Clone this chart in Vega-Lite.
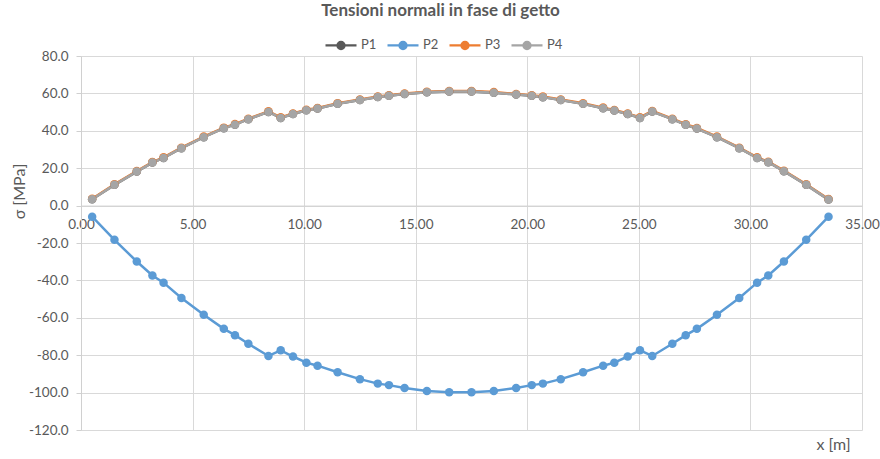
{
"$schema": "https://vega.github.io/schema/vega-lite/v6.json",
"width": 781, "height": 374,
"autosize": "none",
"padding": {"left": 81, "top": 56, "right": 18, "bottom": 29},
"background": "white",
"config": {"font": "Lato", "view": {"stroke": null}},
"title": {"text": "Tensioni normali in fase di getto", "fontSize": 17, "fontWeight": "bold", "color": "#595959", "anchor": "middle", "dx": -31, "offset": 8, "font": "Lato"},
"data": {"values": [
{"s":"P1","x":0.5,"y":3.4},{"s":"P1","x":1.5,"y":11.1},{"s":"P1","x":2.5,"y":18.2},{"s":"P1","x":3.2,"y":23.0},{"s":"P1","x":3.7,"y":25.5},{"s":"P1","x":4.5,"y":30.7},{"s":"P1","x":5.5,"y":36.6},{"s":"P1","x":6.4,"y":41.4},{"s":"P1","x":6.9,"y":43.3},{"s":"P1","x":7.5,"y":46.2},{"s":"P1","x":8.4,"y":50.1},{"s":"P1","x":8.95,"y":46.9},{"s":"P1","x":9.5,"y":49.0},{"s":"P1","x":10.1,"y":51.0},{"s":"P1","x":10.6,"y":51.9},{"s":"P1","x":11.5,"y":54.5},{"s":"P1","x":12.5,"y":56.5},{"s":"P1","x":13.3,"y":58.1},{"s":"P1","x":13.8,"y":58.7},{"s":"P1","x":14.5,"y":59.7},{"s":"P1","x":15.5,"y":60.6},{"s":"P1","x":16.5,"y":61.0},{"s":"P1","x":17.5,"y":61.0},{"s":"P1","x":18.5,"y":60.4},{"s":"P1","x":19.5,"y":59.4},{"s":"P1","x":20.2,"y":58.7},{"s":"P1","x":20.7,"y":58.0},{"s":"P1","x":21.5,"y":56.5},{"s":"P1","x":22.5,"y":54.4},{"s":"P1","x":23.4,"y":52.1},{"s":"P1","x":23.9,"y":50.8},{"s":"P1","x":24.5,"y":49.0},{"s":"P1","x":25.05,"y":46.9},{"s":"P1","x":25.6,"y":50.3},{"s":"P1","x":26.5,"y":46.2},{"s":"P1","x":27.1,"y":43.2},{"s":"P1","x":27.6,"y":41.2},{"s":"P1","x":28.5,"y":36.6},{"s":"P1","x":29.5,"y":30.7},{"s":"P1","x":30.3,"y":25.5},{"s":"P1","x":30.8,"y":23.2},{"s":"P1","x":31.5,"y":18.4},{"s":"P1","x":32.5,"y":11.1},{"s":"P1","x":33.5,"y":3.2},
{"s":"P2","x":0.5,"y":-5.9},{"s":"P2","x":1.5,"y":-18.3},{"s":"P2","x":2.5,"y":-29.9},{"s":"P2","x":3.2,"y":-37.4},{"s":"P2","x":3.7,"y":-41.2},{"s":"P2","x":4.5,"y":-49.4},{"s":"P2","x":5.5,"y":-58.4},{"s":"P2","x":6.4,"y":-65.9},{"s":"P2","x":6.9,"y":-69.3},{"s":"P2","x":7.5,"y":-73.9},{"s":"P2","x":8.4,"y":-80.4},{"s":"P2","x":8.95,"y":-77.4},{"s":"P2","x":9.5,"y":-80.7},{"s":"P2","x":10.1,"y":-84.0},{"s":"P2","x":10.6,"y":-85.6},{"s":"P2","x":11.5,"y":-89.1},{"s":"P2","x":12.5,"y":-92.8},{"s":"P2","x":13.3,"y":-95.2},{"s":"P2","x":13.8,"y":-96.0},{"s":"P2","x":14.5,"y":-97.5},{"s":"P2","x":15.5,"y":-99.1},{"s":"P2","x":16.5,"y":-99.8},{"s":"P2","x":17.5,"y":-99.8},{"s":"P2","x":18.5,"y":-99.1},{"s":"P2","x":19.5,"y":-97.5},{"s":"P2","x":20.2,"y":-96.0},{"s":"P2","x":20.7,"y":-95.2},{"s":"P2","x":21.5,"y":-92.8},{"s":"P2","x":22.5,"y":-89.1},{"s":"P2","x":23.4,"y":-85.6},{"s":"P2","x":23.9,"y":-84.0},{"s":"P2","x":24.5,"y":-80.7},{"s":"P2","x":25.05,"y":-77.4},{"s":"P2","x":25.6,"y":-80.4},{"s":"P2","x":26.5,"y":-73.9},{"s":"P2","x":27.1,"y":-69.3},{"s":"P2","x":27.6,"y":-65.9},{"s":"P2","x":28.5,"y":-58.4},{"s":"P2","x":29.5,"y":-49.4},{"s":"P2","x":30.3,"y":-41.2},{"s":"P2","x":30.8,"y":-37.4},{"s":"P2","x":31.5,"y":-29.9},{"s":"P2","x":32.5,"y":-18.3},{"s":"P2","x":33.5,"y":-5.9},
{"s":"P3","x":0.5,"y":3.7},{"s":"P3","x":1.5,"y":11.4},{"s":"P3","x":2.5,"y":18.5},{"s":"P3","x":3.2,"y":23.3},{"s":"P3","x":3.7,"y":25.8},{"s":"P3","x":4.5,"y":31.0},{"s":"P3","x":5.5,"y":36.9},{"s":"P3","x":6.4,"y":41.7},{"s":"P3","x":6.9,"y":43.6},{"s":"P3","x":7.5,"y":46.5},{"s":"P3","x":8.4,"y":50.4},{"s":"P3","x":8.95,"y":47.2},{"s":"P3","x":9.5,"y":49.3},{"s":"P3","x":10.1,"y":51.3},{"s":"P3","x":10.6,"y":52.2},{"s":"P3","x":11.5,"y":54.8},{"s":"P3","x":12.5,"y":56.8},{"s":"P3","x":13.3,"y":58.4},{"s":"P3","x":13.8,"y":59.0},{"s":"P3","x":14.5,"y":60.0},{"s":"P3","x":15.5,"y":60.9},{"s":"P3","x":16.5,"y":61.3},{"s":"P3","x":17.5,"y":61.3},{"s":"P3","x":18.5,"y":60.7},{"s":"P3","x":19.5,"y":59.7},{"s":"P3","x":20.2,"y":59.0},{"s":"P3","x":20.7,"y":58.3},{"s":"P3","x":21.5,"y":56.8},{"s":"P3","x":22.5,"y":54.7},{"s":"P3","x":23.4,"y":52.4},{"s":"P3","x":23.9,"y":51.1},{"s":"P3","x":24.5,"y":49.3},{"s":"P3","x":25.05,"y":47.2},{"s":"P3","x":25.6,"y":50.6},{"s":"P3","x":26.5,"y":46.5},{"s":"P3","x":27.1,"y":43.5},{"s":"P3","x":27.6,"y":41.5},{"s":"P3","x":28.5,"y":36.9},{"s":"P3","x":29.5,"y":31.0},{"s":"P3","x":30.3,"y":25.8},{"s":"P3","x":30.8,"y":23.5},{"s":"P3","x":31.5,"y":18.7},{"s":"P3","x":32.5,"y":11.4},{"s":"P3","x":33.5,"y":3.5},
{"s":"P4","x":0.5,"y":3.4},{"s":"P4","x":1.5,"y":11.1},{"s":"P4","x":2.5,"y":18.2},{"s":"P4","x":3.2,"y":23.0},{"s":"P4","x":3.7,"y":25.5},{"s":"P4","x":4.5,"y":30.7},{"s":"P4","x":5.5,"y":36.6},{"s":"P4","x":6.4,"y":41.4},{"s":"P4","x":6.9,"y":43.3},{"s":"P4","x":7.5,"y":46.2},{"s":"P4","x":8.4,"y":50.1},{"s":"P4","x":8.95,"y":46.9},{"s":"P4","x":9.5,"y":49.0},{"s":"P4","x":10.1,"y":51.0},{"s":"P4","x":10.6,"y":51.9},{"s":"P4","x":11.5,"y":54.5},{"s":"P4","x":12.5,"y":56.5},{"s":"P4","x":13.3,"y":58.1},{"s":"P4","x":13.8,"y":58.7},{"s":"P4","x":14.5,"y":59.7},{"s":"P4","x":15.5,"y":60.6},{"s":"P4","x":16.5,"y":61.0},{"s":"P4","x":17.5,"y":61.0},{"s":"P4","x":18.5,"y":60.4},{"s":"P4","x":19.5,"y":59.4},{"s":"P4","x":20.2,"y":58.7},{"s":"P4","x":20.7,"y":58.0},{"s":"P4","x":21.5,"y":56.5},{"s":"P4","x":22.5,"y":54.4},{"s":"P4","x":23.4,"y":52.1},{"s":"P4","x":23.9,"y":50.8},{"s":"P4","x":24.5,"y":49.0},{"s":"P4","x":25.05,"y":46.9},{"s":"P4","x":25.6,"y":50.3},{"s":"P4","x":26.5,"y":46.2},{"s":"P4","x":27.1,"y":43.2},{"s":"P4","x":27.6,"y":41.2},{"s":"P4","x":28.5,"y":36.6},{"s":"P4","x":29.5,"y":30.7},{"s":"P4","x":30.3,"y":25.5},{"s":"P4","x":30.8,"y":23.2},{"s":"P4","x":31.5,"y":18.4},{"s":"P4","x":32.5,"y":11.1},{"s":"P4","x":33.5,"y":3.2}
]},
"mark": {"type": "line", "strokeWidth": 2.5, "point": {"filled": true, "size": 72, "opacity": 1}},
"encoding": {
"x": {"field": "x", "type": "quantitative", "scale": {"domain": [0, 35], "nice": false, "zero": false},
 "axis": {"title": "x [m]", "offset": -224.4, "titleX": 752, "titleY": 239, "titleAlign": "center", "titleBaseline": "middle", "titleFontSize": 16, "titleFontWeight": "normal", "titleColor": "#595959", "titleFont": "Lato",
  "values": [0, 5, 10, 15, 20, 25, 30, 35], "format": ".2f", "labelFontSize": 13.5, "labelFont": "Lato", "labelColor": "#595959", "labelPadding": 12, "labelFlush": false, "labelOverlap": false, "labelBound": false, "ticks": false, "tickSize": 0,
  "domainColor": "#D0D0D0", "gridColor": "#D9D9D9"}},
"y": {"field": "y", "type": "quantitative", "scale": {"domain": [-120, 80], "nice": false, "zero": false},
 "axis": {"title": "σ [MPa]", "titleX": -62, "titleY": 135, "titleAngle": -90, "titleAlign": "center", "titleBaseline": "middle", "titleFontSize": 16, "titleFontWeight": "normal", "titleColor": "#595959", "titleFont": "Lato",
  "values": [-120, -100, -80, -60, -40, -20, 0, 20, 40, 60, 80], "labelExpr": "replace(format(datum.value, '.1f'), '\u2212', '-')", "labelFontSize": 13.5, "labelFont": "Lato", "labelColor": "#595959", "labelPadding": 8, "tickSize": 5, "tickColor": "#D0D0D0", "labelOverlap": false,
  "domainColor": "#D0D0D0", "gridColor": "#D9D9D9"}},
"color": {"field": "s", "type": "nominal", "scale": {"domain": ["P1", "P2", "P3", "P4"], "range": ["#595959", "#5B9BD5", "#ED7D31", "#A5A5A5"]},
 "legend": {"orient": "none", "legendX": 243, "legendY": -28, "direction": "horizontal", "title": null,
  "symbolType": "M-1,0H1M0.23,0A0.23,0.23,0,1,1,-0.23,0A0.23,0.23,0,1,1,0.23,0Z", "symbolSize": 961, "symbolStrokeWidth": 2.25,
  "labelFontSize": 13, "labelFont": "Lato", "labelColor": "#595959", "labelOffset": 3, "columnPadding": 6,
  "encode": {"symbols": {"update": {"fill": {"scale": "color", "field": "value"}, "stroke": {"scale": "color", "field": "value"}, "opacity": {"value": 1}}}}}}
}
}
